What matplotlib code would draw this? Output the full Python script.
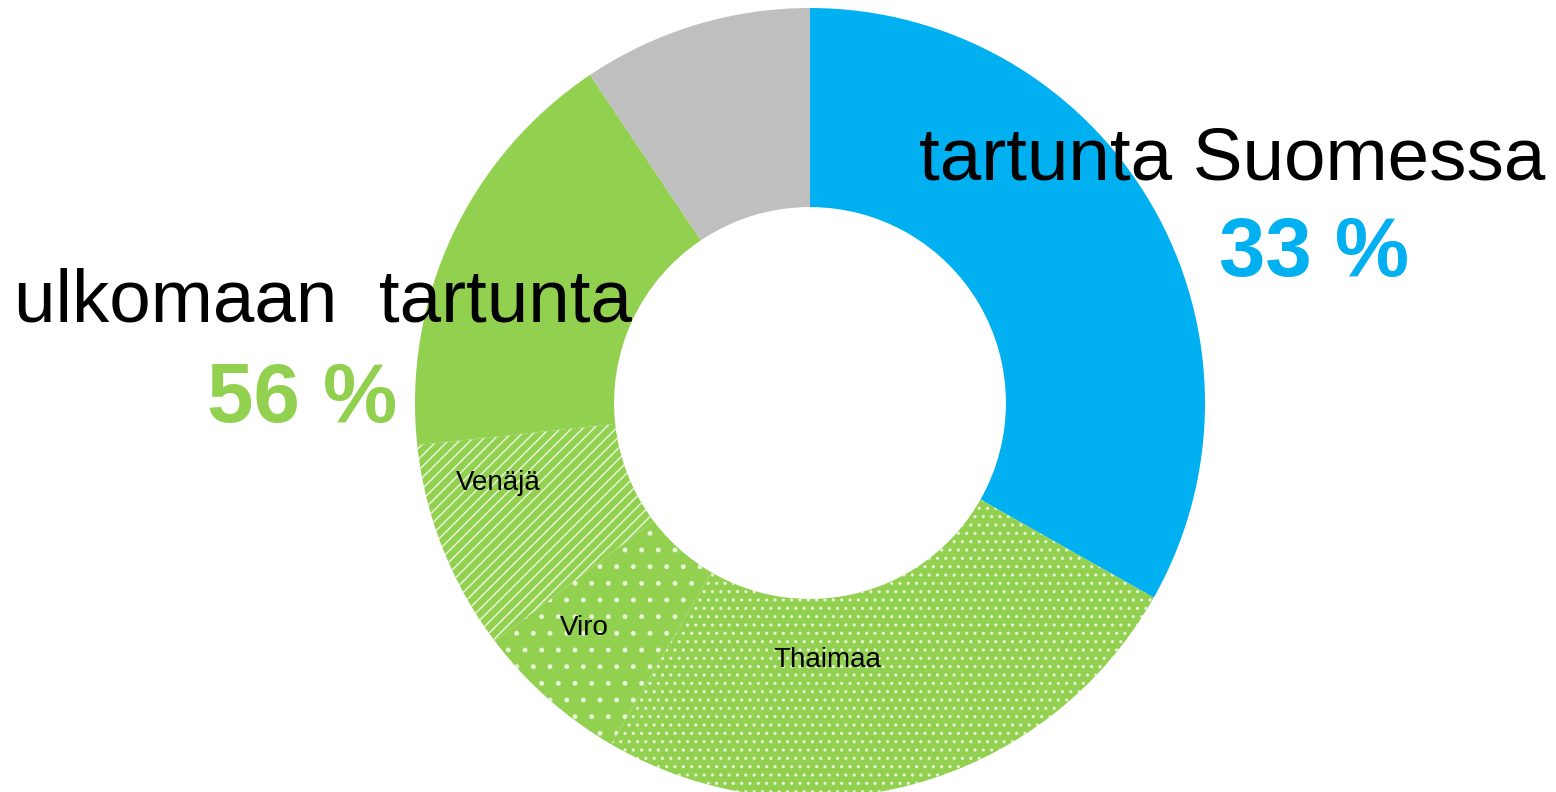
import matplotlib.pyplot as plt

plt.rcParams['font.family'] = ['Liberation Sans', 'DejaVu Sans']
plt.rcParams['hatch.linewidth'] = 1.1

# slices clockwise from 12 o'clock
slice_names = ["Suomessa", "Thaimaa", "Viro", "Venäjä", "muu ulkomaa", "tuntematon"]
slice_values = [33.2, 25.2, 6.3, 8.6, 17.3, 9.4]
slice_colors = ["#00B0F0", "#92D050", "#92D050", "#92D050", "#92D050", "#BFBFBF"]
slice_hatches = [None, "..", ".", "///", None, None]
inner_labels = ["", "Thaimaa", "Viro", "Venäjä", "", ""]

big_labels = ["tartunta Suomessa", "ulkomaan  tartunta"]
big_pcts = ["33 %", "56 %"]

fig = plt.figure(figsize=(15.56, 7.92), dpi=100)
ax = fig.add_axes([0, 0, 1, 1])

wedges, _ = ax.pie(slice_values, colors=slice_colors, startangle=90, counterclock=False,
                   radius=1.0, wedgeprops=dict(width=0.504, linewidth=0))
for w, h in zip(wedges, slice_hatches):
    if h:
        w.set_hatch(h)
        w.set_edgecolor("#E8F5D8")
        w.set_linewidth(0)

ax.set_aspect("equal")
ax.set_xlim(-810 / 395, (1556 - 810) / 395)
ax.set_ylim(-389 / 395, 403 / 395)
ax.axis("off")

def px(x, y):
    return (x - 810) / 395, (792 - y - 389) / 395

for name, pos in zip(inner_labels, [None, (827, 660), (584, 628), (498, 483), None, None]):
    if name:
        ax.text(*px(*pos), name, fontsize=20, ha="center", va="center", color="black")

ax.text(*px(1232, 160), big_labels[0], fontsize=53.7, ha="center", va="center", color="black")
ax.text(*px(1314, 254), big_pcts[0], fontsize=60, ha="center", va="center",
        color="#00B0F0", fontweight="bold")
ax.text(*px(323, 302), big_labels[1], fontsize=53.7, ha="center", va="center", color="black")
ax.text(*px(302, 400), big_pcts[1], fontsize=60, ha="center", va="center",
        color="#92D050", fontweight="bold")

fig.savefig("out.png", dpi=100)
